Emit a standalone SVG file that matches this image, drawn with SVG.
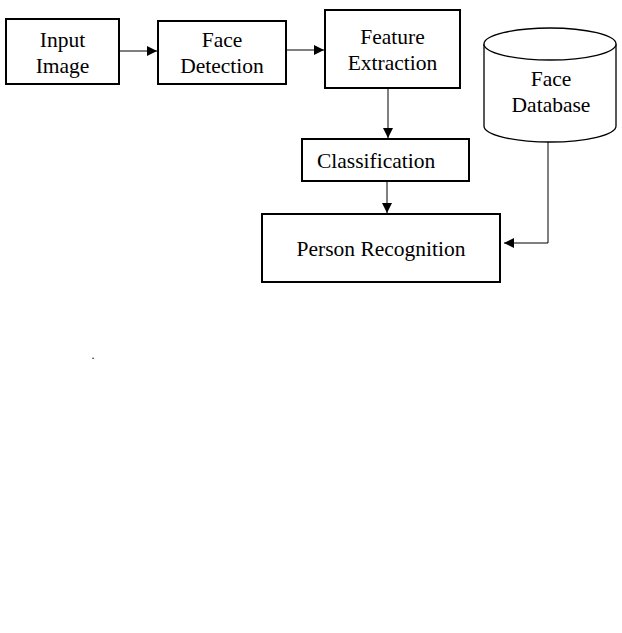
<svg xmlns="http://www.w3.org/2000/svg" width="622" height="633" viewBox="0 0 622 633">
<style>
.box{fill:#fff;stroke:#000;stroke-width:2}
.t{font-family:"Liberation Serif","Times New Roman",serif;font-size:21.5px;fill:#000;text-anchor:middle}
.c{fill:none;stroke:#000;stroke-width:1}
</style>
<defs>
<marker id="ah" markerWidth="10" markerHeight="10" refX="10" refY="5" orient="auto" markerUnits="userSpaceOnUse">
<path d="M0,0 L10,5 L0,10 Z" fill="#000"/>
</marker>
</defs>
<rect width="622" height="633" fill="#fff"/>
<g id="connectors">
<line class="c" x1="119" y1="51" x2="157" y2="51" marker-end="url(#ah)"/>
<line class="c" x1="287" y1="50" x2="324" y2="50" marker-end="url(#ah)"/>
<line class="c" x1="388" y1="88" x2="388" y2="138" marker-end="url(#ah)"/>
<line class="c" x1="387" y1="181" x2="387" y2="213" marker-end="url(#ah)"/>
<polyline class="c" points="548,142 548,243 504,243" marker-end="url(#ah)"/>
</g>
<g id="input-image">
<rect class="box" x="6" y="19" width="113" height="65"/>
<text class="t" x="62.5" y="47">Input</text>
<text class="t" x="62.5" y="73">Image</text>
</g>
<g id="face-detection">
<rect class="box" x="158" y="21" width="128" height="63"/>
<text class="t" x="222" y="47">Face</text>
<text class="t" x="222" y="73">Detection</text>
</g>
<g id="feature-extraction">
<rect class="box" x="325" y="10" width="135" height="78"/>
<text class="t" x="392.5" y="44">Feature</text>
<text class="t" x="392.5" y="70">Extraction</text>
</g>
<g id="face-database">
<path d="M484,44 L484,126 A66,16 0 0 0 616,126 L616,44" fill="#fff" stroke="#000" stroke-width="1.3"/>
<ellipse cx="550" cy="44" rx="66" ry="16" fill="#fff" stroke="#000" stroke-width="1.3"/>
<text class="t" x="551" y="86">Face</text>
<text class="t" x="551" y="112">Database</text>
</g>
<g id="classification">
<rect class="box" x="302" y="139" width="167" height="42"/>
<text class="t" x="317" y="168" style="text-anchor:start">Classification</text>
</g>
<g id="person-recognition">
<rect class="box" x="262" y="214" width="238" height="68"/>
<text class="t" x="381" y="256">Person Recognition</text>
</g>
<text class="t" x="93" y="359" style="font-size:12px">.</text>
</svg>
